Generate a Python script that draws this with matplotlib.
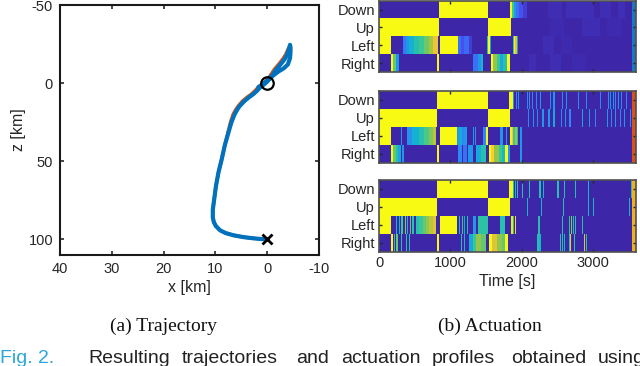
import numpy as np
import matplotlib.pyplot as plt
from matplotlib.colors import LinearSegmentedColormap

plt.rcParams['font.family'] = ['Liberation Sans', 'DejaVu Sans']
plt.rcParams['axes.unicode_minus'] = False

# ---------------------------------------------------------
# trajectory data [km]
# ---------------------------------------------------------
traj_x = [0, 1.5, 3.0, 4.5, 6.5, 8.0, 9.1, 9.9, 10.3, 10.5, 10.5, 10.3, 9.9, 9.4,
          8.8, 8.2, 7.5, 6.9, 6.3, 5.8, 5.3, 4.4, 3.5, 2.7, 2.0, 1.4, 0.6, 0.0,
          -0.9, -1.8, -2.7, -3.4, -3.8, -4.1, -4.3, -4.4, -4.5, -4.5, -4.4, -4.0,
          -3.2, -2.2, -1.0, 0.2, 1.2, 1.7]
traj_z = [100, 99.7, 99.2, 98.6, 97.4, 96.0, 94.2, 91.5, 89, 86, 81, 76, 66, 57,
          49, 40, 31.8, 25, 20, 17, 14.6, 11.5, 9, 7.1, 5, 2.8, 0.8, -1.0,
          -4.5, -9, -12.5, -15.5, -18, -20.9, -23, -24.5, -23, -20, -16, -12,
          -9.5, -7.5, -4.5, -1, 1.5, 2.5]
ref_x = [0, 1.5, 3.0, 4.5, 6.5, 8.0, 9.1, 9.9, 10.3, 10.5, 10.5, 10.3, 9.9, 9.4,
         8.8, 8.2, 7.6, 7.1, 6.6, 6.1, 5.6, 4.8, 3.9, 3.1, 2.4, 1.8, 1.0, 0.4,
         -0.5, -1.4, -2.3, -3.0, -3.5, -3.9, -4.2]
ref_z = [100, 99.7, 99.2, 98.6, 97.4, 96.0, 94.2, 91.5, 89, 86, 81, 76, 66, 57,
         49, 40, 31.8, 25, 20, 17, 14.6, 11.5, 9, 7.1, 5, 2.8, 0.8, -1.0,
         -4.5, -9, -12.5, -15.5, -18, -20.9, -23]
start_pt = (0, 0)
end_pt = (0, 100)

x_ticks = [40, 30, 20, 10, 0, -10]
z_ticks = [-50, 0, 50, 100]

# ---------------------------------------------------------
# actuation data: (start [s], end [s], level)
# ---------------------------------------------------------
rows = ["Down", "Up", "Left", "Right"]
time_ticks = [0, 1000, 2000, 3000]
t_end = 3545
t_max = 3605

p1_down = [(838, 1530, 1), (1838, 1872, 1), (1872, 1895, 0.5), (1895, 1920, 0.3),
           (1920, 1970, 0.2), (1970, 2020, 0.12), (2020, 2070, 0.07),
           (2370, 2570, 0.02), (2620, 3010, 0.025), (3100, 3250, 0.02), (3350, 3450, 0.025)]
p1_up = [(0, 838, 1), (1530, 1848, 1), (2400, 2600, 0.015), (2850, 3100, 0.02),
         (3200, 3400, 0.015)]
p1_left = [(0, 168, 1), (341, 379, 0.22), (379, 425, 0.3), (425, 496, 0.38),
           (496, 566, 0.45), (566, 636, 0.5), (636, 706, 0.56), (706, 762, 0.62),
           (762, 823, 0.72), (856, 1104, 1), (1104, 1150, 0.2), (1150, 1200, 0.12),
           (1200, 1260, 0.18), (1260, 1300, 0.07), (1520, 1534, 0.45), (1534, 1557, 1),
           (1557, 1570, 0.35), (1876, 1895, 0.5), (1895, 1913, 0.95), (1913, 1932, 0.7),
           (1932, 1955, 0.3), (2300, 2450, 0.02), (2550, 2700, 0.015)]
p1_right = [(173, 201, 1), (201, 248, 0.55), (248, 285, 0.3), (814, 847, 1),
            (1315, 1385, 0.2), (1385, 1430, 0.3), (1430, 1465, 0.4), (1571, 1604, 1),
            (1604, 1650, 0.6), (1650, 1700, 0.5), (1700, 1744, 0.35), (1744, 1791, 0.45),
            (1791, 1838, 1), (2100, 2200, 0.02), (2400, 2550, 0.02), (2700, 2900, 0.015)]

p2_down = [(814, 1525, 1), (1828, 1875, 1)]
p2_up = [(0, 814, 1), (1525, 1838, 1)]
p2_left = [(0, 168, 1), (309, 332, 0.3), (402, 472, 0.28), (472, 566, 0.38),
           (566, 636, 0.45), (636, 706, 0.52), (706, 762, 0.58), (762, 800, 0.65),
           (856, 1094, 1), (1094, 1130, 0.3), (1130, 1160, 0.35), (1160, 1200, 0.25),
           (1200, 1230, 0.3), (1455, 1500, 0.25), (1501, 1525, 1), (1698, 1735, 0.3),
           (1782, 1800, 0.3), (1838, 1861, 0.95), (1861, 1885, 0.75), (1885, 1910, 0.5),
           (1910, 1931, 0.6), (1931, 1955, 0.45), (1978, 2002, 0.3)]
p2_right = [(173, 201, 1), (201, 239, 0.55), (239, 275, 0.45), (275, 309, 0.35),
            (814, 847, 1), (1104, 1160, 0.25), (1175, 1230, 0.2), (1250, 1315, 0.3),
            (1362, 1430, 0.35), (1430, 1501, 0.45), (1548, 1571, 1), (1571, 1620, 0.8),
            (1620, 1680, 0.6), (1680, 1730, 0.5), (1730, 1768, 0.4), (1768, 1815, 1),
            (1815, 1838, 0.3), (1973, 2000, 0.3)]
# short pulses: (time [s], level)
p2_down_pulses = [(1885, 0.3), (1918, 0.25), (1955, 0.3), (2072, 0.25), (2109, 0.3),
                  (2147, 0.25), (2203, 0.25), (2259, 0.3), (2400, 0.25), (2446, 0.3),
                  (2568, 0.25), (2619, 0.3), (2783, 0.25), (2900, 0.25), (3091, 0.25),
                  (3204, 0.3), (3241, 0.25), (3279, 0.3), (3311, 0.25), (3349, 0.3),
                  (3396, 0.25), (3466, 0.25)]
p2_up_pulses = [(2095, 0.25), (2165, 0.3), (2212, 0.25), (2292, 0.3), (2376, 0.3),
                (2446, 0.35), (2549, 0.25), (2610, 0.3), (2670, 0.25), (2843, 0.35),
                (2937, 0.3), (3031, 0.25), (3194, 0.3), (3255, 0.25), (3311, 0.3),
                (3381, 0.25), (3438, 0.3), (3513, 0.25)]
p2_left_pulses = [(1320, 0.3), (1345, 0.3)]
p2_right_pulses = [(332, 0.3)]

p3_down = [(814, 1525, 1), (1828, 1875, 1)]
p3_up = [(0, 814, 1), (1525, 1838, 1)]
p3_left = [(0, 168, 1), (519, 566, 0.45), (566, 613, 0.5), (613, 660, 0.55),
           (660, 706, 0.6), (706, 760, 0.65), (760, 800, 0.7), (856, 1094, 1),
           (1315, 1362, 0.3), (1385, 1525, 0.47), (1698, 1768, 0.45),
           (1855, 1875, 0.9), (1880, 1898, 0.45), (1902, 1918, 0.85)]
p3_right = [(173, 201, 1), (248, 276, 0.55), (814, 847, 1), (1268, 1315, 0.35),
            (1315, 1362, 0.5), (1362, 1432, 0.6), (1432, 1501, 0.55), (1548, 1585, 1),
            (1585, 1650, 0.7), (1650, 1720, 0.6), (1720, 1768, 0.55), (1768, 1815, 1)]
p3_down_pulses = [(1885, 0.45), (1908, 0.4), (1941, 0.45), (2002, 0.45), (2109, 0.45),
                  (2250, 0.45), (2296, 0.4), (2502, 0.45), (2587, 0.45), (2741, 0.45),
                  (2924, 0.4), (3532, 0.45)]
p3_up_pulses = [(2072, 0.4), (2268, 0.4), (2577, 0.45), (2924, 0.4), (2999, 0.4),
                (3499, 0.4)]
p3_left_pulses = [(245, 0.4), (280, 0.4), (318, 0.5), (365, 0.6), (398, 0.4),
                  (440, 0.55), (470, 0.45), (485, 0.45), (1127, 0.4), (1165, 0.5),
                  (1197, 0.35), (1230, 0.45), (2236, 0.45), (2563, 0.45), (2657, 0.45),
                  (2689, 0.6), (2717, 0.45), (2750, 0.45), (2843, 0.45)]
p3_right_pulses = [(215, 0.45), (309, 0.45), (379, 0.45), (425, 0.45), (1150, 0.45),
                   (1197, 0.4), (2222, 0.45), (2250, 0.4), (2531, 0.45), (2563, 0.45),
                   (2587, 0.4), (2657, 0.45), (2680, 0.75), (2736, 0.45), (2867, 0.7),
                   (2905, 0.45)]

strip_colors = ['#1a78c2', '#d95319', '#edb120']

# parula-like colormap
parula = LinearSegmentedColormap.from_list('parula', [
    (0.2422, 0.1504, 0.6603), (0.2810, 0.3228, 0.9579), (0.1786, 0.5289, 0.9682),
    (0.0689, 0.6948, 0.8394), (0.2161, 0.7843, 0.5923), (0.6720, 0.7793, 0.2227),
    (0.9970, 0.7659, 0.2199), (0.9598, 0.8870, 0.1014), (0.9769, 0.9839, 0.0805)])

BIN = 7  # seconds per image column (~half a pixel)


def build(segs, pulses):
    t = np.arange(0, t_end, BIN) + BIN / 2
    img = np.zeros((len(rows), len(t)))
    for r, row in enumerate(segs):
        for s, e, v in row:
            img[r, (t >= s) & (t < e)] = v
    for r, row in enumerate(pulses):
        for p, v in row:
            img[r, (t >= p) & (t < p + 15)] = v
    return img


panels = [
    build([p1_down, p1_up, p1_left, p1_right], [[], [], [], []]),
    build([p2_down, p2_up, p2_left, p2_right],
          [p2_down_pulses, p2_up_pulses, p2_left_pulses, p2_right_pulses]),
    build([p3_down, p3_up, p3_left, p3_right],
          [p3_down_pulses, p3_up_pulses, p3_left_pulses, p3_right_pulses]),
]

txt = '#262626'
fig = plt.figure(figsize=(6.4, 3.66), dpi=100)

# =========================================================
# (a) trajectory
# =========================================================
ax = fig.add_axes([0.09375, 0.3033, 0.4047, 0.683])
ax.plot(ref_x, ref_z, color='#d95319', lw=2.4, solid_capstyle='round')
ax.plot(traj_x, traj_z, color='#0072bd', lw=3.0, solid_capstyle='round',
        solid_joinstyle='round')
ax.plot(*start_pt, 'o', mfc='none', mec='k', ms=9, mew=1.6)
ax.plot(*end_pt, 'x', color='k', ms=7, mew=2)
ax.set_xlim(40, -10)
ax.set_ylim(110, -50)
ax.set_xticks(x_ticks)
ax.set_yticks(z_ticks)
ax.set_xlabel('x [km]', fontsize=11.5, color=txt, labelpad=3)
ax.set_ylabel('z [km]', fontsize=11.5, color=txt, labelpad=2)
ax.tick_params(direction='in', top=True, right=True, length=3, width=1.2,
               labelsize=10.5, colors=txt, pad=5)
for sp in ax.spines.values():
    sp.set_linewidth(1.5)
    sp.set_color('#1a1a1a')

# =========================================================
# (b) actuation
# =========================================================
bottoms = [0.8025, 0.5555, 0.3123]
for i, img in enumerate(panels):
    axb = fig.add_axes([0.5922, bottoms[i], 0.4016, 0.196])
    axb.imshow(img, cmap=parula, vmin=0, vmax=1, aspect='auto',
               interpolation='nearest',
               extent=(0, t_end, len(rows) - 0.5, -0.5))
    axb.axvspan(t_end, t_max, color=strip_colors[i], lw=0)
    axb.set_xlim(0, t_max)
    axb.set_ylim(len(rows) - 0.5, -0.5)
    axb.set_yticks(range(len(rows)))
    axb.set_yticklabels(rows)
    axb.set_xticks(time_ticks)
    axb.tick_params(direction='in', top=True, right=True, length=2.5, width=1,
                    labelsize=10.5, colors=txt, pad=3)
    if i < 2:
        axb.tick_params(labelbottom=False)
    else:
        axb.set_xlabel('Time [s]', fontsize=11.5, color=txt, labelpad=3)
    for sp in axb.spines.values():
        sp.set_linewidth(1.2)
        sp.set_color('#505050')

# =========================================================
# captions
# =========================================================
fig.text(164 / 640, 1 - 331 / 366, '(a) Trajectory', ha='center', va='baseline',
         fontsize=14, family='Liberation Serif', color='#111111')
fig.text(490 / 640, 1 - 331 / 366, '(b) Actuation', ha='center', va='baseline',
         fontsize=14, family='Liberation Serif', color='#111111')
fig.text(0, 1 - 363 / 366, 'Fig. 2.', ha='left', va='baseline', fontsize=14,
         color='#2ba6dc')
words = ['Resulting', 'trajectories', 'and', 'actuation', 'profiles', 'obtained', 'using']
word_x = [88, 182, 296, 341, 432, 511, 598]
for w, wx in zip(words, word_x):
    fig.text(wx / 640, 1 - 363 / 366, w, ha='left', va='baseline', fontsize=14,
             color='#222222')

fig.savefig('out.png', dpi=100)
